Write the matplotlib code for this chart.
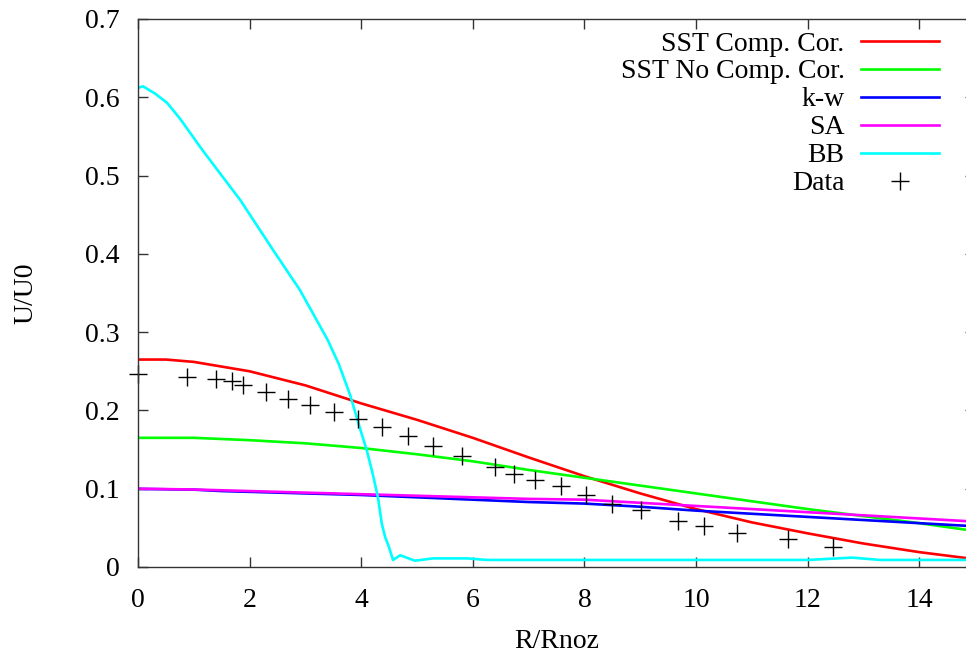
# Radial profile of U/U0 against R/Rnoz for several turbulence models and measured data

import matplotlib
matplotlib.use('Agg')
import matplotlib.pyplot as plt

# ------------------------------------------------------------------------------------------------ #
# values

sstCompX = [0, 0.5, 1, 2, 3, 4, 5, 6, 7, 8, 9, 10, 11, 12, 13, 14, 15]
sstCompY = [0.265, 0.265, 0.262, 0.250, 0.232, 0.209, 0.188, 0.165, 0.140, 0.116, 0.094, 0.074,
	0.057, 0.043, 0.030, 0.019, 0.010]

sstNoCompX = [0, 1, 2, 3, 4, 5, 6, 7, 8, 9, 10, 11, 12, 13, 14, 15]
sstNoCompY = [0.165, 0.165, 0.162, 0.158, 0.152, 0.144, 0.135, 0.124, 0.114, 0.104, 0.094, 0.084,
	0.074, 0.065, 0.056, 0.046]

kwX = [0, 1, 1.5, 2, 3, 4, 5, 6, 7, 8, 9, 10, 11, 12, 13, 14, 15]
kwY = [0.0998, 0.0988, 0.097, 0.096, 0.094, 0.092, 0.089, 0.086, 0.083, 0.081, 0.077, 0.072,
	0.068, 0.064, 0.060, 0.056, 0.052]

saX = [0, 1, 2, 3, 4, 5, 6, 7, 8, 9, 10, 11, 12, 13, 14, 15]
saY = [0.100, 0.099, 0.097, 0.095, 0.093, 0.091, 0.089, 0.087, 0.086, 0.082, 0.078, 0.074,
	0.070, 0.066, 0.062, 0.058]

bbX = [0, 0.09, 0.3, 0.52, 0.75, 0.99, 1.15, 1.5, 1.83, 2.42, 2.9, 3.4, 3.6, 3.8, 4.0, 4.1, 4.2,
	4.3, 4.37, 4.43, 4.5, 4.57, 4.7, 4.85, 4.96, 5.29, 5.9, 6.25, 7, 8, 9, 10, 11, 12, 12.8, 13.3,
	14, 15]
bbY = [0.612, 0.614, 0.605, 0.593, 0.573, 0.549, 0.533, 0.500, 0.469, 0.405, 0.354, 0.290, 0.259,
	0.220, 0.172, 0.149, 0.121, 0.089, 0.055, 0.038, 0.025, 0.009, 0.015, 0.011, 0.008, 0.011,
	0.011, 0.009, 0.009, 0.009, 0.009, 0.009, 0.009, 0.009, 0.012, 0.009, 0.009, 0.009]

dataX = [0, 0.87, 1.40, 1.69, 1.88, 2.29, 2.69, 3.09, 3.51, 3.94, 4.38, 4.84, 5.29, 5.81, 6.40,
	6.74, 7.11, 7.58, 8.03, 8.49, 9.01, 9.67, 10.14, 10.73, 11.65, 12.46]
dataY = [0.246, 0.243, 0.240, 0.237, 0.232, 0.224, 0.215, 0.207, 0.198, 0.189, 0.179, 0.167,
	0.155, 0.142, 0.128, 0.119, 0.111, 0.103, 0.092, 0.081, 0.073, 0.059, 0.052, 0.044, 0.036,
	0.026]

xTicks = [0, 2, 4, 6, 8, 10, 12, 14]
yTicks = [0, 0.1, 0.2, 0.3, 0.4, 0.5, 0.6, 0.7]
yTickLabels = ['0', '0.1', '0.2', '0.3', '0.4', '0.5', '0.6', '0.7']
# ------------------------------------------------------------------------------------------------ #


plt.rcParams['font.family'] = ['Liberation Serif', 'DejaVu Serif']
fontSize = 20

fig = plt.figure(figsize=(9.66, 6.54), dpi=100)
# the right edge of the plot box sits just outside the picture, as in the reference
ax = fig.add_axes([138/966., 1 - 567/654., 837/966., 548/654.])

lw = 1.9
ax.plot(sstCompX, sstCompY, color='#ff0000', lw=lw, label='SST Comp. Cor.')
ax.plot(sstNoCompX, sstNoCompY, color='#00ff00', lw=lw, label='SST No Comp. Cor.')
ax.plot(kwX, kwY, color='#0000ff', lw=lw, label='k-w')
ax.plot(saX, saY, color='#ff00ff', lw=lw, label='SA')
ax.plot(bbX, bbY, color='#00ffff', lw=lw, label='BB')
ax.plot(dataX, dataY, linestyle='none', marker='+', markersize=13, markeredgewidth=1.0,
	color='black', label='Data', clip_on=False)

ax.set_xlim(0, 15)
ax.set_ylim(0, 0.7)
ax.set_xticks(xTicks)
ax.set_xticklabels([str(t) for t in xTicks])
ax.set_yticks(yTicks)
ax.set_yticklabels(yTickLabels)

for side in ['left', 'right', 'top', 'bottom']:
	ax.spines[side].set_color('#333333')
	ax.spines[side].set_linewidth(1.0)

ax.tick_params(direction='in', length=7, width=1.0, color='#333333', top=True, right=True,
	labelsize=fontSize)
ax.tick_params(axis='x', pad=15)
ax.tick_params(axis='y', pad=13)

ax.set_xlabel('R/Rnoz', fontsize=fontSize, labelpad=12)
ax.set_ylabel('U/U0', fontsize=fontSize, labelpad=34)

leg = ax.legend(loc='upper right', bbox_to_anchor=(0.957, 0.978), markerfirst=False,
	frameon=False, fontsize=fontSize, handlelength=2.8, handletextpad=0.6, labelspacing=0.09,
	borderpad=0, borderaxespad=0)

fig.savefig('out.png', format='png', dpi=100)
